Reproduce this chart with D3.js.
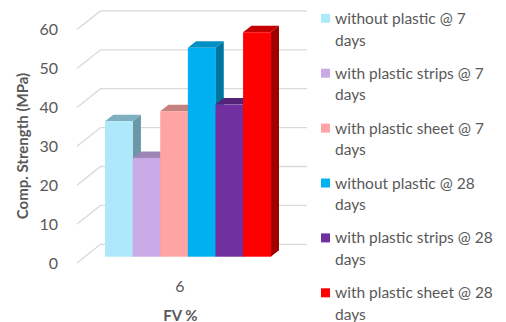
<!DOCTYPE html>
<html>
<head>
<meta charset="utf-8">
<script src="https://cdn.jsdelivr.net/npm/d3@7"></script>
<style>
  html, body { margin: 0; padding: 0; background: #fff; }
  svg { display: block; font-family: Lato, "Open Sans", sans-serif; }
</style>
</head>
<body>
<svg id="chart" width="506" height="322"></svg>
<script>
// ---- data ----
const categories = ["6"];
const seriesNames = [
  ["without plastic @ 7", "days"],
  ["with plastic strips @ 7", "days"],
  ["with plastic sheet @ 7", "days"],
  ["without plastic @ 28", "days"],
  ["with plastic strips @ 28", "days"],
  ["with plastic sheet @ 28", "days"]
];
const seriesValues = [34.8, 25.4, 37.4, 53.7, 39.1, 57.7];
const seriesColors = ["#AEE8FB", "#C9AAE6", "#FFA4A4", "#00B0F0", "#7030A0", "#FF0000"];
const topColors    = ["#7DAFC0", "#9D85B6", "#C58080", "#0090C4", "#53237A", "#C40000"];
const sideColors   = ["#6B97A8", "#8C76A2", "#B07272", "#00759F", "#46206A", "#A00000"];
const yTicks = [0, 10, 20, 30, 40, 50, 60];
const yTitle = "Comp. Strength (MPa)";
const xTitle = "FV %";

// ---- layout ----
const svg = d3.select("#chart");
const textColor = "#595959";
const gridColor = "#D9D9D9";

const y = d3.scaleLinear().domain([0, 60]).range([263, 29.6]); // front plane level
const backDx = 23.5, backDy = -18.7;   // back wall offset
const frontX = 77, wallRight = 307;
const barDy = -6.3;                    // bar front offset
const depthDx = 8.3, depthDy = -6.5;   // bar depth

const xCat = d3.scaleBand().domain(categories).range([105, 270.7]).padding(0);
const xSeries = d3.scaleBand().domain(d3.range(seriesValues.length))
  .range([0, xCat.bandwidth()]).padding(0);

// gridlines: floor diagonal + back wall
const grid = svg.append("g").attr("fill", "none").attr("stroke", gridColor).attr("stroke-width", 1.3);
yTicks.forEach(t => {
  grid.append("path").attr("d", d3.line()([
    [frontX, y(t)], [frontX + backDx, y(t) + backDy], [wallRight, y(t) + backDy]
  ]));
});

// y tick labels
svg.append("g").selectAll("text").data(yTicks).join("text")
  .attr("x", 58).attr("y", d => y(d)).attr("dy", "0.36em")
  .attr("text-anchor", "end").attr("fill", textColor)
  .style("font-size", "16px").text(d => d);

// bars
const bars = svg.append("g");
categories.forEach(cat => {
  seriesValues.forEach((v, i) => {
    const x0 = xCat(cat) + xSeries(i);
    const x1 = x0 + xSeries.bandwidth();
    const yt = y(v) + barDy, yb = y(0) + barDy;
    const g = bars.append("g");
    // side
    g.append("path").attr("fill", sideColors[i]).attr("d", d3.line()([
      [x1, yt], [x1 + depthDx, yt + depthDy], [x1 + depthDx, yb + depthDy], [x1, yb]
    ]) + "Z");
    // top
    g.append("path").attr("fill", topColors[i]).attr("d", d3.line()([
      [x0, yt], [x1, yt], [x1 + depthDx, yt + depthDy], [x0 + depthDx, yt + depthDy]
    ]) + "Z");
    // front
    g.append("rect").attr("x", x0).attr("y", yt).attr("width", x1 - x0 + 0.4)
      .attr("height", yb - yt).attr("fill", seriesColors[i]);
  });
});

// x tick label
svg.append("g").selectAll("text").data(categories).join("text")
  .attr("x", d => xCat(d) + xCat.bandwidth() / 2 - 8).attr("y", 292)
  .attr("text-anchor", "middle").attr("fill", textColor)
  .style("font-size", "16px").text(d => d);

// axis titles
svg.append("text").attr("x", 180.5).attr("y", 320.5)
  .attr("text-anchor", "middle").attr("fill", textColor)
  .style("font-size", "15px").style("font-weight", "bold").text(xTitle);

svg.append("text").attr("transform", "translate(28,146) rotate(-90)")
  .attr("text-anchor", "middle").attr("fill", textColor)
  .style("font-size", "15px").style("font-weight", "bold").text(yTitle);

// legend
const legend = svg.append("g");
seriesNames.forEach((lines, i) => {
  const cy = 18.3 + i * 54.9;
  legend.append("rect").attr("x", 321).attr("y", cy - 4.5).attr("width", 9).attr("height", 9)
    .attr("fill", seriesColors[i]);
  lines.forEach((ln, j) => {
    legend.append("text").attr("x", 335).attr("y", cy + j * 21.7).attr("dy", "0.36em")
      .attr("fill", textColor).style("font-size", "15.5px").text(ln);
  });
});
</script>
</body>
</html>
